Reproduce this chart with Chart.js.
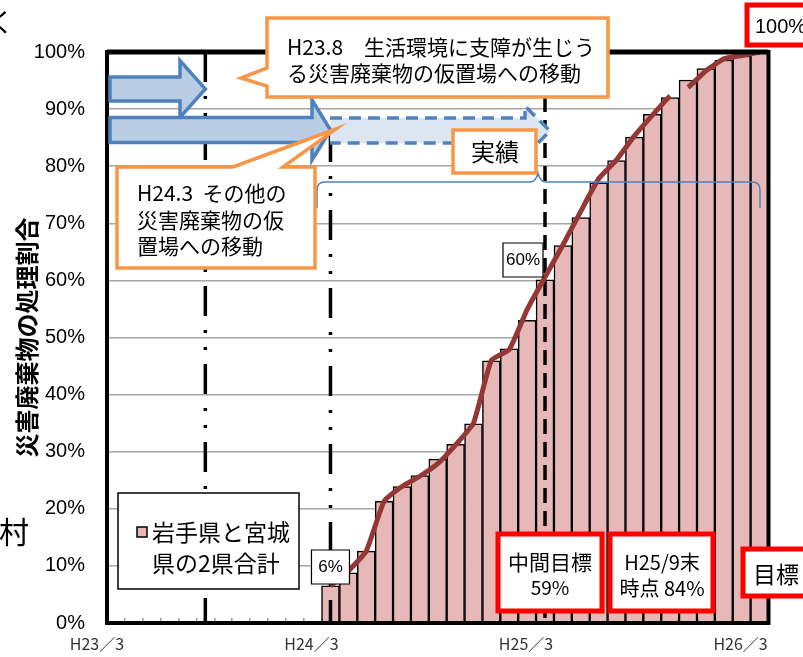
<!DOCTYPE html>
<html>
<head>
<meta charset="utf-8">
<script src="https://cdn.jsdelivr.net/npm/chart.js@4.4.1/dist/chart.umd.min.js"></script>
<style>
  body { margin: 0; background: #fff; }
  canvas { display: block; }
</style>
</head>
<body>
<canvas id="myChart" width="803" height="657"></canvas>
<script>
const months = ['H23/3', 'H23/4', 'H23/5', 'H23/6', 'H23/7', 'H23/8', 'H23/9', 'H23/10', 'H23/11', 'H23/12',
  'H24/1', 'H24/2', 'H24/3', 'H24/4', 'H24/5', 'H24/6', 'H24/7', 'H24/8', 'H24/9', 'H24/10', 'H24/11', 'H24/12',
  'H25/1', 'H25/2', 'H25/3', 'H25/4', 'H25/5', 'H25/6', 'H25/7', 'H25/8', 'H25/9', 'H25/10', 'H25/11', 'H25/12',
  'H26/1', 'H26/2', 'H26/3'];
const shownMonths = ['H23/3', 'H24/3', 'H25/3', 'H26/3'];

// bars: 岩手県と宮城県の2県合計 (%)
const totals = [null, null, null, null, null, null, null, null, null, null, null, null,
  6.5, 8.8, 12.6, 21.3, 23.9, 25.8, 28.7, 31.3, 34.9, 45.9, 48.0, 53.0,
  60.1, 66.1, 71.0, 77.1, 81.0, 85.1, 89.1, 92.0, 95.1, 97.1, 98.6, 99.3, 100];
// red trend line (%)
const trend = [null, null, null, null, null, null, null, null, null, null, null, null,
  6.5, 9.1, 12.6, 21.3, 23.9, 25.7, 27.9, 31.2, 35.0, 46.0, 47.9, 54.9,
  60.6, 66.2, 72.1, 77.8, 81.1, 85.3, 88.9, 92.3, 93.8, 96.7, 98.8, 99.4, 100];

const yTicks = [0, 10, 20, 30, 40, 50, 60, 70, 80, 90, 100];

const JP = '"Noto Sans CJK JP", sans-serif';
const LAT = '"Liberation Sans", Arial, sans-serif';

function txt(ctx, s, x, y, font, align) {
  ctx.font = font;
  ctx.textAlign = align || 'left';
  ctx.textBaseline = 'middle';
  ctx.fillStyle = '#000';
  ctx.fillText(s, x, y);
}

function shape(ctx, pts, fill, stroke, lw) {
  ctx.beginPath();
  ctx.moveTo(pts[0][0], pts[0][1]);
  for (let i = 1; i < pts.length; i++) ctx.lineTo(pts[i][0], pts[i][1]);
  ctx.closePath();
  ctx.fillStyle = fill;
  ctx.fill();
  ctx.lineWidth = lw;
  ctx.strokeStyle = stroke;
  ctx.stroke();
}

function rectBox(ctx, x1, y1, x2, y2, stroke, lw) {
  shape(ctx, [[x1, y1], [x2, y1], [x2, y2], [x1, y2]], '#fff', stroke, lw);
}

function arrowPts(x0, cy, h, hx, H, tip) {
  return [[x0, cy - h], [hx, cy - h], [hx, cy - H], [tip, cy], [hx, cy + H], [hx, cy + h], [x0, cy + h]];
}

const notes = {
  id: 'notes',
  afterDatasetDraw(chart, args) {
    if (args.index !== 1) return;
    const ctx = chart.ctx, x = chart.scales.x, a = chart.chartArea;
    const vline = (px, y1, y2) => { ctx.beginPath(); ctx.moveTo(px, y1); ctx.lineTo(px, y2); ctx.stroke(); };
    ctx.save();
    ctx.strokeStyle = '#000';
    ctx.lineWidth = 3.5;
    ctx.setLineDash([30, 14, 3, 14, 3, 14]);
    vline(x.getPixelForValue(5), a.top, a.bottom);
    vline(x.getPixelForValue(12), 132, a.bottom);
    ctx.setLineDash([15, 8]);
    vline(x.getPixelForValue(24), 97, a.bottom);
    ctx.restore();
  },
  afterDatasetsDraw(chart) {
    const ctx = chart.ctx, x = chart.scales.x, a = chart.chartArea;
    ctx.save();
    ctx.lineJoin = 'miter';

    // plot frame
    ctx.strokeStyle = '#000';
    ctx.lineWidth = 4;
    ctx.strokeRect(a.left, a.top, a.right - a.left, a.bottom - a.top);
    ctx.lineWidth = 5;
    ctx.beginPath();
    ctx.moveTo(a.left, a.top);
    ctx.lineTo(a.right, a.top);
    ctx.stroke();

    // dashed arrow (実績)
    const dpts = [[330, 118], [525, 118], [525, 106], [550, 131], [525, 156], [525, 143], [330, 143]];
    ctx.beginPath();
    dpts.forEach((p, i) => i ? ctx.lineTo(p[0], p[1]) : ctx.moveTo(p[0], p[1]));
    ctx.closePath();
    ctx.fillStyle = '#DCE6F2';
    ctx.fill();
    ctx.beginPath();
    dpts.forEach((p, i) => i ? ctx.lineTo(p[0], p[1]) : ctx.moveTo(p[0], p[1]));
    ctx.setLineDash([12, 7]);
    ctx.lineWidth = 3.5;
    ctx.strokeStyle = '#4F81BD';
    ctx.stroke();
    ctx.setLineDash([]);

    // solid arrows
    shape(ctx, arrowPts(a.left + 3, 89, 12, 180, 28.5, x.getPixelForValue(5)), '#B9CDE5', '#4F81BD', 3.5);
    shape(ctx, arrowPts(a.left + 3, 130, 12.5, 312, 30, x.getPixelForValue(12)), '#B9CDE5', '#4F81BD', 3.5);

    // brace
    ctx.beginPath();
    ctx.moveTo(317, 208);
    ctx.lineTo(317, 190);
    ctx.quadraticCurveTo(317, 182, 325, 182);
    ctx.lineTo(530, 182);
    ctx.quadraticCurveTo(536, 182, 538, 173);
    ctx.quadraticCurveTo(540, 182, 546, 182);
    ctx.lineTo(752, 182);
    ctx.quadraticCurveTo(760, 182, 760, 190);
    ctx.lineTo(760, 208);
    ctx.lineWidth = 1.5;
    ctx.strokeStyle = '#4F81BD';
    ctx.stroke();

    // callout 1
    shape(ctx, [[267, 18], [608, 18], [608, 97], [267, 97], [267, 86], [241, 78], [267, 68]], '#fff', '#F79646', 3.5);
    txt(ctx, 'H23.8　生活環境に支障が生じう', 287, 47, '21px ' + JP);
    txt(ctx, 'る災害廃棄物の仮置場への移動', 287, 73, '21px ' + JP);

    // callout 2
    shape(ctx, [[117, 167], [233, 167], [336, 129], [283, 167], [315, 167], [315, 268], [117, 268]], '#fff', '#F79646', 3.5);
    txt(ctx, 'H24.3  その他の', 137, 193, '21px ' + JP);
    txt(ctx, '災害廃棄物の仮', 137, 220, '21px ' + JP);
    txt(ctx, '置場への移動', 137, 246, '21px ' + JP);

    // 実績
    rectBox(ctx, 453, 130, 536, 173, '#F79646', 3.5);
    txt(ctx, '実績', 495, 152, '24px ' + JP, 'center');

    // value labels
    const x12 = x.getPixelForValue(12), x24 = x.getPixelForValue(24);
    rectBox(ctx, x12 - 19, 550, x12 + 19, 584, '#000', 1.2);
    txt(ctx, '6%', x12, 567, '17px ' + LAT, 'center');
    rectBox(ctx, x24 - 42, 243, x24 - 2, 277, '#000', 1.2);
    txt(ctx, '60%', x24 - 22, 260, '17px ' + LAT, 'center');

    // red boxes
    rectBox(ctx, 498, 534, 602, 611, '#FF0000', 5);
    txt(ctx, '中間目標', 550, 562, '21px ' + JP, 'center');
    txt(ctx, '59%', 550, 588, '19px ' + JP, 'center');
    rectBox(ctx, 610, 534, 713, 611, '#FF0000', 5);
    txt(ctx, 'H25/9末', 662, 562, '20px ' + JP, 'center');
    txt(ctx, '時点 84%', 662, 588, '20px ' + JP, 'center');
    rectBox(ctx, 743, 549, 812, 596, '#FF0000', 5);
    txt(ctx, '目標', 753, 574, '23px ' + JP);
    rectBox(ctx, 747, 5, 812, 45, '#FF0000', 5);
    txt(ctx, '100%', 755, 27, '20px ' + LAT);

    // legend box
    rectBox(ctx, 118, 493, 299, 589, '#000', 1.5);
    ctx.fillStyle = '#E6B9B8';
    ctx.fillRect(137, 527, 10, 10);
    ctx.lineWidth = 1.5;
    ctx.strokeStyle = '#000';
    ctx.strokeRect(137, 527, 10, 10);
    txt(ctx, '岩手県と宮城', 152, 532, '23px ' + JP);
    txt(ctx, '県の2県合計', 152, 563, '23px ' + JP);

    // text cut off at the left edge
    txt(ctx, 'く', -12, 22, '26px ' + JP);
    txt(ctx, '村', -1, 532, '30px ' + JP);
    ctx.restore();
  }
};

new Chart(document.getElementById('myChart'), {
  type: 'bar',
  data: {
    labels: months,
    datasets: [
      {
        type: 'line',
        label: 'trend',
        data: trend,
        borderColor: '#953735',
        borderWidth: 5,
        pointRadius: 0,
        tension: 0.15,
        segment: {
          borderColor: c => c.p0DataIndex === 31 ? 'rgba(0,0,0,0)' : undefined
        }
      },
      {
        label: '岩手県と宮城県の2県合計',
        data: totals,
        backgroundColor: '#E6B9B8',
        borderColor: '#000',
        borderWidth: 1.5,
        barPercentage: 1,
        categoryPercentage: 1
      }
    ]
  },
  options: {
    responsive: false,
    animation: false,
    devicePixelRatio: 1,
    layout: { padding: { top: 52, right: 23, left: 0, bottom: 0 } },
    plugins: {
      legend: { display: false },
      tooltip: { enabled: false }
    },
    scales: {
      x: {
        afterFit: s => { s.height = 30; },
        border: { display: false },
        grid: { drawOnChartArea: false, tickLength: -5, color: '#999', lineWidth: 1.5 },
        ticks: {
          autoSkip: false,
          maxRotation: 0,
          padding: 16,
          labelOffset: -19,
          color: '#333',
          font: { family: JP, size: 16 },
          callback: function (v) {
            const m = months[v];
            return shownMonths.includes(m) ? m.replace('/', '／') : '';
          }
        }
      },
      y: {
        min: 0,
        max: 100,
        afterFit: s => { s.width = 107; },
        afterBuildTicks: s => { s.ticks = yTicks.map(v => ({ value: v })); },
        border: { display: false },
        grid: { color: '#A6A6A6', lineWidth: 1.5, drawTicks: false },
        ticks: {
          padding: 22,
          color: '#000',
          font: { family: LAT, size: 20 },
          callback: v => v + '%'
        },
        title: {
          display: true,
          text: '災害廃棄物の処理割合',
          color: '#000',
          font: { family: JP, size: 24, weight: 'bold' },
          padding: { top: 12, bottom: 0 }
        }
      }
    }
  },
  plugins: [notes]
});
</script>
</body>
</html>
